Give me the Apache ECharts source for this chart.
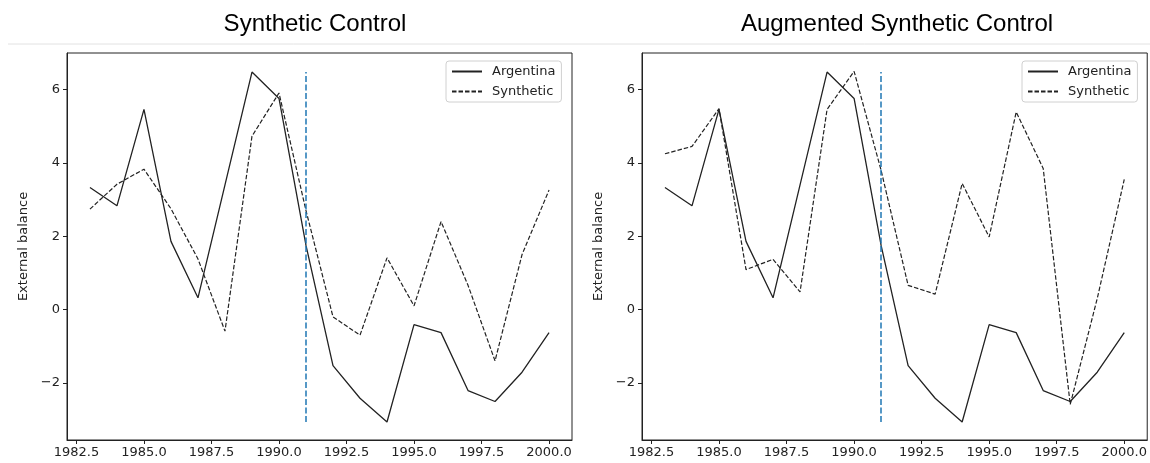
<!DOCTYPE html>
<html>
<head>
<meta charset="utf-8">
<script src="https://cdn.jsdelivr.net/npm/echarts@6/dist/echarts.min.js"></script>
<style>
  html, body { margin: 0; padding: 0; background: #fff; }
  #chart { width: 1150px; height: 463px; }
</style>
</head>
<body>
<div id="chart"></div>
<script>
const years = [1983, 1984, 1985, 1986, 1987, 1988, 1989, 1990, 1991, 1992,
  1993, 1994, 1995, 1996, 1997, 1998, 1999, 2000]

// Argentina is the same in both panels
const argentina = [3.33, 2.83, 5.46, 1.86, 0.32, 3.4, 6.48, 5.76, 1.75, -1.53,
  -2.42, -3.07, -0.41, -0.63, -2.21, -2.51, -1.71, -0.63]
const synthSC = [2.74, 3.42, 3.83, 2.75, 1.38, -0.59, 4.73, 5.91, 2.7, -0.2,
  -0.7, 1.41, 0.1, 2.4, 0.66, -1.4, 1.5, 3.26]
const synthASC = [4.25, 4.45, 5.48, 1.09, 1.37, 0.48, 5.46, 6.5, 3.8, 0.66,
  0.42, 3.44, 1.98, 5.39, 3.85, -2.59, 0.3, 3.55]

const panelTitles = ["Synthetic Control", "Augmented Synthetic Control"]
const xTicks = [1982.5, 1985, 1987.5, 1990, 1992.5, 1995, 1997.5, 2000]
const yTicks = [-2, 0, 2, 4, 6]
const treatYear = 1991

const font = "DejaVu Sans"
const ink = "#222"
const pairs = (ys) => years.map((x, i) => [x, ys[i]])
const minus = (s) => String(s).replace("-", "\u2212")

const chart = echarts.init(document.getElementById("chart"), null, { renderer: "canvas" })

const grids = [
  { left: 67, width: 505, top: 53, height: 387 },
  { left: 642, width: 506, top: 53, height: 387 },
]
const titleCenters = [310, 892]

function xAxis(i) {
  return {
    type: "value", gridIndex: i, min: 1982.15, max: 2000.85,
    axisLine: { show: true, onZero: false, lineStyle: { color: ink, width: 1 } },
    axisTick: { show: true, length: 4, customValues: xTicks, lineStyle: { color: ink } },
    axisLabel: { customValues: xTicks, color: ink, fontFamily: font, fontSize: 13, margin: 6,
      formatter: (v) => v.toFixed(1) },
    splitLine: { show: false },
  }
}

function yAxis(i) {
  return {
    type: "value", gridIndex: i, min: -3.56, max: 7.0,
    name: "External balance", nameLocation: "middle", nameGap: 37, nameRotate: 90,
    nameTextStyle: { color: ink, fontFamily: font, fontSize: 13 },
    axisLine: { show: true, onZero: false, lineStyle: { color: ink, width: 1 } },
    axisTick: { show: true, length: 4, customValues: yTicks, lineStyle: { color: ink } },
    axisLabel: { customValues: yTicks, color: ink, fontFamily: font, fontSize: 13, margin: 7,
      formatter: (v) => minus(v) },
    splitLine: { show: false },
  }
}

function lines(i, synth) {
  const lo = Math.min(...argentina), hi = Math.max(...argentina)
  return [
    {
      name: "Argentina", type: "line", xAxisIndex: i, yAxisIndex: i,
      data: pairs(argentina), symbol: "none", silent: true,
      lineStyle: { color: ink, width: 1.3 }, itemStyle: { color: ink },
      markLine: {
        silent: true, symbol: "none", label: { show: false },
        lineStyle: { color: "#1f77b4", width: 1.5, type: [6, 2.5] },
        data: [[{ coord: [treatYear, lo] }, { coord: [treatYear, hi] }]],
      },
    },
    {
      name: "Synthetic", type: "line", xAxisIndex: i, yAxisIndex: i,
      data: pairs(synth), symbol: "none", silent: true,
      lineStyle: { color: ink, width: 1.2, type: [4.5, 2] }, itemStyle: { color: ink },
    },
  ]
}

function legend(left) {
  return {
    orient: "vertical", left, top: 61,
    data: ["Argentina", "Synthetic"],
    itemWidth: 30, itemHeight: 14, itemGap: 7,
    padding: [4, 6, 4, 5],
    backgroundColor: "#fff", borderColor: "#d0d0d0", borderWidth: 1, borderRadius: 3,
    itemStyle: { opacity: 0 },
    textStyle: { color: ink, fontFamily: font, fontSize: 13, padding: [0, 0, 0, 5] },
    selectedMode: false,
  }
}

chart.setOption({
  animation: false,
  title: panelTitles.map((t, i) => ({
    text: t, left: titleCenters[i], top: 7, textAlign: "center",
    textStyle: { color: "#000", fontFamily: "Liberation Sans", fontSize: 24, fontWeight: "normal" },
  })),
  graphic: [{
    type: "line", shape: { x1: 8, y1: 44, x2: 1150, y2: 44 },
    style: { stroke: "#e2e2e2", lineWidth: 1 }, silent: true,
  }],
  legend: [legend(446), legend(1022)],
  grid: grids.map((g) => ({ ...g, show: true, borderColor: ink, borderWidth: 1, backgroundColor: "#fff" })),
  xAxis: [xAxis(0), xAxis(1)],
  yAxis: [yAxis(0), yAxis(1)],
  series: [...lines(0, synthSC), ...lines(1, synthASC)],
})
</script>
</body>
</html>
